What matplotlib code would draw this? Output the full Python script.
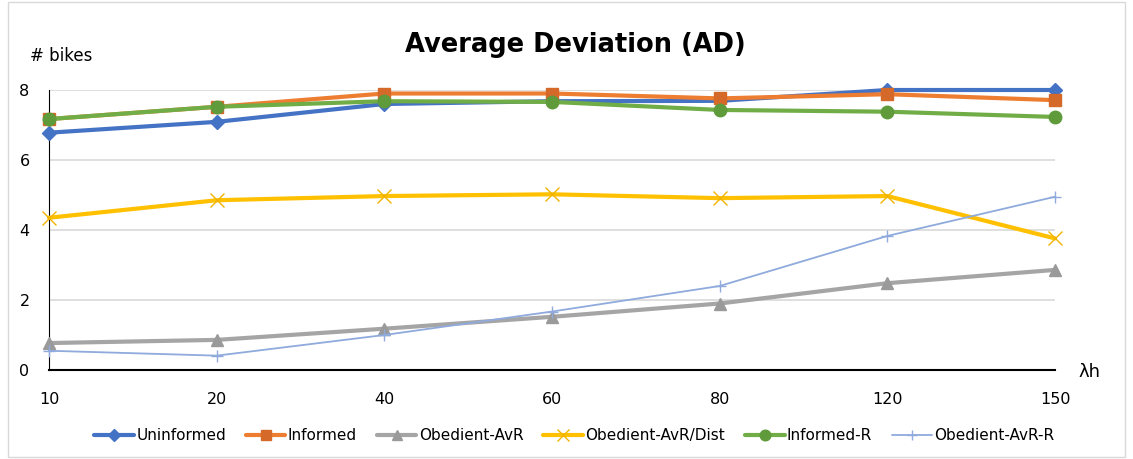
import numpy as np
import matplotlib.pyplot as plt
from matplotlib.patches import Rectangle

# data
h_labels = ['10', '20', '40', '60', '80', '120', '150']
uninformed = [6.78, 7.09, 7.6, 7.68, 7.69, 8.0, 8.0]
informed = [7.17, 7.52, 7.9, 7.9, 7.76, 7.88, 7.71]
obedient_avr = [0.77, 0.86, 1.18, 1.52, 1.9, 2.48, 2.86]
obedient_avr_dist = [4.35, 4.85, 4.97, 5.02, 4.91, 4.97, 3.76]
informed_r = [7.17, 7.52, 7.68, 7.66, 7.43, 7.38, 7.23]
obedient_avr_r = [0.55, 0.41, 1.0, 1.67, 2.4, 3.83, 4.95]

x = np.arange(len(h_labels))

fig = plt.figure(figsize=(11.33, 4.59), dpi=100)
ax = fig.add_axes([49 / 1133, 1 - 370 / 459, (1055 - 49) / 1133, 280 / 459])

# chart area frame like Excel
fig.patches.append(Rectangle((0.007, 0.005), 0.986, 0.99, transform=fig.transFigure,
                             fill=False, edgecolor='#d9d9d9', linewidth=1))

series = [
    ('Uninformed', uninformed, '#4472C4', 'D', '#4472C4', 3, 7),
    ('Informed', informed, '#ED7D31', 's', '#D4692A', 3, 9),
    ('Obedient-AvR', obedient_avr, '#A5A5A5', '^', '#9A9A9A', 3, 9),
    ('Obedient-AvR/Dist', obedient_avr_dist, '#FFC000', 'x', '#F0B400', 3, 10),
    ('Informed-R', informed_r, '#70AD47', 'o', '#5F9A3B', 3, 9),
    ('Obedient-AvR-R', obedient_avr_r, '#8FAADC', '+', '#8FAADC', 1.3, 9),
]

for name, vals, col, mk, mcol, lw, ms in series:
    ax.plot(x, vals, color=col, lw=lw, marker=mk, markersize=ms,
            markerfacecolor=mcol, markeredgecolor=mcol, markeredgewidth=1,
            label=name, solid_capstyle='round', clip_on=False, zorder=3)

ax.set_xlim(0, len(h_labels) - 1)
ax.set_ylim(0, 8)
ax.set_yticks([0, 2, 4, 6, 8])
ax.set_xticks(x)
ax.set_xticklabels(h_labels)
ax.tick_params(axis='both', length=0, labelsize=11.5, colors='black')
ax.tick_params(axis='x', pad=16)
ax.tick_params(axis='y', pad=14)
ax.grid(axis='y', color='#d9d9d9', lw=1.2)
ax.set_axisbelow(True)
for s in ['top', 'right']:
    ax.spines[s].set_visible(False)
ax.spines['left'].set_color('black')
ax.spines['bottom'].set_color('black')
ax.spines['bottom'].set_linewidth(1.5)

fig.text(575 / 1133, 1 - 45 / 459, 'Average Deviation (AD)', ha='center', va='center',
         fontsize=18.5, fontweight='bold')
fig.text(30 / 1133, 1 - 56 / 459, '# bikes', ha='left', va='center', fontsize=12)
fig.text(1078 / 1133, 1 - 372 / 459, 'λh', ha='left', va='center', fontsize=13)

ax.legend(loc='center', bbox_to_anchor=(0.522, -0.235), ncol=6, frameon=False,
          fontsize=11, handlelength=2.6, handletextpad=0.15, columnspacing=1.3,
          markerscale=0.85)

fig.savefig('out.png')
